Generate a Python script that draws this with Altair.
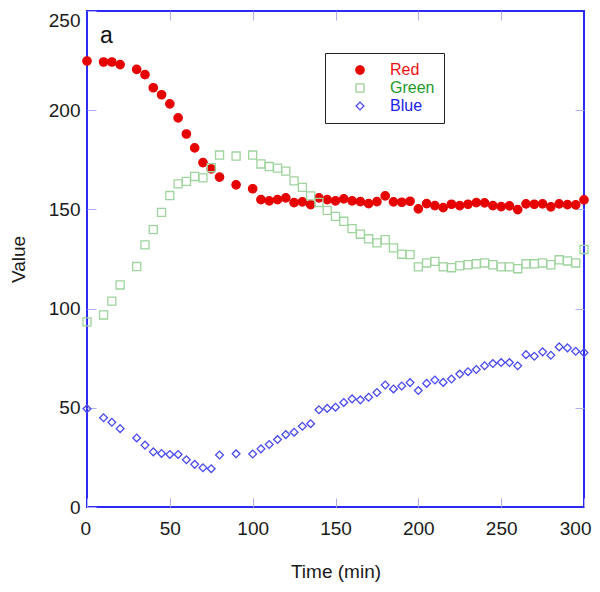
import altair as alt
import pandas as pd

times = [0, 10, 15, 20, 30, 35, 40, 45, 50, 55, 60, 65, 70, 75, 80, 90,
         100, 105, 110, 115, 120, 125, 130, 135, 140, 145, 150, 155, 160, 165,
         170, 175, 180, 185, 190, 195, 200, 205, 210, 215, 220, 225, 230, 235,
         240, 245, 250, 255, 260, 265, 270, 275, 280, 285, 290, 295, 300]

red = [224.8, 224.3, 224.3, 223.0, 220.6, 217.9, 211.3, 207.8, 203.2, 196.1,
       188.0, 181.0, 173.6, 170.4, 166.3, 162.4, 160.4, 154.9, 154.3, 154.9,
       155.8, 153.4, 153.8, 152.4, 155.8, 154.9, 154.3, 155.3, 154.3, 153.9,
       152.9, 153.9, 156.8, 153.8, 153.6, 154.1, 150.3, 152.9, 151.9, 150.9,
       152.6, 151.9, 152.6, 153.4, 153.3, 151.9, 151.4, 151.8, 149.9, 152.8,
       152.6, 152.8, 151.3, 152.8, 152.4, 152.3, 154.8]

green = [93.3, 96.8, 103.8, 111.9, 121.2, 132.1, 139.8, 148.5, 157.0, 162.9,
         164.1, 166.6, 165.9, 171.0, 177.4, 176.9, 177.4, 172.9, 171.6, 170.8,
         169.3, 164.4, 161.1, 156.8, 153.5, 149.5, 146.5, 144.0, 140.3, 137.5,
         135.2, 133.1, 134.7, 130.6, 127.4, 127.2, 121.0, 123.0, 123.8, 121.0,
         120.6, 121.6, 122.1, 122.6, 123.0, 122.1, 121.0, 121.0, 120.1, 122.6,
         122.6, 123.0, 122.1, 124.6, 124.0, 123.0, 129.8]

blue = [49.5, 45.0, 42.7, 39.5, 34.8, 31.2, 27.8, 27.0, 26.5, 26.5,
        23.8, 21.5, 19.8, 19.3, 26.2, 26.8, 26.7, 29.3, 31.5, 34.0,
        36.5, 37.7, 40.7, 42.0, 49.0, 49.7, 50.3, 52.7, 54.5, 54.0,
        55.3, 57.7, 61.5, 59.5, 61.0, 62.7, 58.7, 62.3, 64.0, 62.8,
        64.5, 67.0, 68.2, 69.3, 71.2, 72.3, 72.8, 72.8, 71.2, 76.8,
        76.0, 78.2, 76.5, 80.7, 80.2, 78.5, 77.8]

series_names = ["Red", "Green", "Blue"]
x_ticks = [0, 50, 100, 150, 200, 250, 300]
y_ticks = [0, 50, 100, 150, 200, 250]

rows = []
for name, vals in zip(series_names, [red, green, blue]):
    for t, v in zip(times, vals):
        rows.append({"time": t, "value": v, "series": name})
df = pd.DataFrame(rows)

FONT = "Liberation Sans"
TICK = "#aeaef2"
TEXT = "#1a1a1a"

x_scale = alt.Scale(domain=[0, 300], nice=False, zero=False)
y_scale = alt.Scale(domain=[0, 250], nice=False, zero=False)

base = alt.Chart(df)

frame = base.mark_point(opacity=0).encode(
    x=alt.X("time:Q", scale=x_scale,
            axis=alt.Axis(orient="top", values=[50, 100, 150, 200, 250], labels=False,
                          tickSize=9, offset=-9, domain=False, grid=False, title=None,
                          tickColor=TICK, tickWidth=1)),
    y=alt.Y("value:Q", scale=y_scale,
            axis=alt.Axis(orient="right", values=[50, 100, 150, 200], labels=False,
                          tickSize=9, offset=-9, domain=False, grid=False, title=None,
                          tickColor=TICK, tickWidth=1)),
)

legend = alt.Legend(
    title=None, orient="none", legendX=238, legendY=42, padding=9,
    strokeColor="#222222", fillColor="white",
    labelFont=FONT, labelFontSize=16, symbolOffset=18, labelOffset=22,
    rowPadding=2, symbolStrokeWidth=1.3,
    labelColor=alt.ExprRef("datum.label == 'Red' ? '#ee1111' : (datum.label == 'Green' ? '#22992a' : '#2020ee')"),
)

points = base.mark_point(filled=False, strokeWidth=1.3, opacity=1).encode(
    x=alt.X("time:Q", scale=x_scale,
            axis=alt.Axis(orient="bottom", values=x_ticks, offset=-9, tickSize=9,
                          domain=False, grid=False, title="Time (min)",
                          tickColor=TICK, tickWidth=1,
                          labelFlush=True, labelFlushOffset=7,
                          labelPadding=12, titlePadding=24,
                          labelFont=FONT, labelFontSize=19, labelColor=TEXT,
                          titleFont=FONT, titleFontSize=19, titleFontWeight="normal",
                          titleColor=TEXT)),
    y=alt.Y("value:Q", scale=y_scale,
            axis=alt.Axis(orient="left", values=y_ticks, offset=-9, tickSize=9,
                          domain=False, grid=False, title="Value",
                          tickColor=TICK, tickWidth=1,
                          labelPadding=7, titlePadding=20,
                          labelBaseline={"condition": {"test": "datum.value == 250", "value": "top"},
                                         "value": "middle"},
                          labelFont=FONT, labelFontSize=19, labelColor=TEXT,
                          titleFont=FONT, titleFontSize=19, titleFontWeight="normal",
                          titleColor=TEXT)),
    color=alt.Color("series:N", scale=alt.Scale(domain=series_names,
                    range=["#e60000", "#9ed49e", "#4a4af0"]), legend=legend),
    fill=alt.Fill("series:N", scale=alt.Scale(domain=series_names,
                  range=["#e60000", "transparent", "transparent"]), legend=legend),
    shape=alt.Shape("series:N", scale=alt.Scale(domain=series_names,
                    range=["circle", "square", "diamond"]), legend=legend),
    size=alt.Size("series:N", scale=alt.Scale(domain=series_names,
                  range=[70, 60, 45]), legend=legend),
)

label = alt.Chart(pd.DataFrame({"label": ["a"]})).mark_text(
    align="left", baseline="alphabetic", font=FONT, fontSize=23, color="#111111"
).encode(text="label:N", x=alt.value(13), y=alt.value(32))

chart = alt.layer(frame, points, label).resolve_axis(
    x="independent", y="independent"
).properties(
    width=497, height=496,
    padding={"left": 79, "top": 3, "right": 8, "bottom": 76},
    autosize="none",
).configure_view(stroke="#2b2bf5", strokeWidth=2)

chart.save("out.html", embed_options={"renderer": "svg", "actions": False})
